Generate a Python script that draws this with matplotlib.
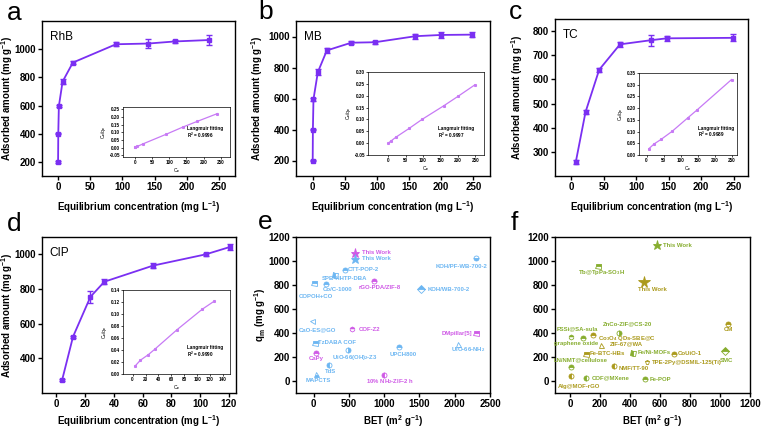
import matplotlib
matplotlib.use('Agg')
import matplotlib.pyplot as plt

plt.rcParams['font.family'] = ['Liberation Sans', 'DejaVu Sans']
plt.rcParams['font.weight'] = 'bold'
plt.rcParams['mathtext.fontset'] = 'custom'
plt.rcParams['mathtext.rm'] = 'Liberation Sans:bold'
plt.rcParams['mathtext.bf'] = 'Liberation Sans:bold'
plt.rcParams['mathtext.it'] = 'Liberation Sans:bold'
plt.rcParams['mathtext.default'] = 'rm'

W, H = 761, 428

# ---- isotherm data (Ce in mg/L, q in mg/g) ----
rhb_ce = [0, 0.3, 1.2, 7, 23, 90, 140, 182, 235]
rhb_q = [200, 400, 595, 770, 905, 1035, 1040, 1055, 1065]
rhb_err = [5, 5, 8, 20, 10, 15, 30, 12, 35]
rhb_fit_ce = [0, 1, 7, 23, 90, 140, 182, 240]
rhb_fit_r = [0.002, 0.004, 0.009, 0.025, 0.087, 0.135, 0.172, 0.222]

mb_ce = [0, 0.3, 1.2, 8, 22, 60, 97, 160, 200, 248]
mb_q = [200, 400, 595, 770, 910, 960, 963, 1002, 1010, 1012]
mb_err = [5, 5, 8, 20, 15, 10, 10, 15, 18, 18]
mb_fit_ce = [0, 8, 22, 60, 97, 160, 200, 248]
mb_fit_r = [0.0, 0.009, 0.025, 0.062, 0.100, 0.158, 0.197, 0.245]

tc_ce = [7, 22, 43, 75, 122, 147, 249]
tc_q = [258, 465, 640, 745, 762, 770, 772]
tc_err = [10, 10, 8, 10, 22, 10, 14]
tc_fit_r = [0.027, 0.047, 0.067, 0.101, 0.160, 0.191, 0.322]

cip_ce = [4, 11.6, 23.7, 33.4, 67.3, 104, 120.6]
cip_q = [275, 525, 755, 842, 935, 1000, 1042]
cip_err = [5, 5, 35, 15, 15, 10, 15]
cip_fit_ce = [3.5, 12, 24, 34, 69, 108, 126]
cip_fit_r = [0.013, 0.023, 0.032, 0.041, 0.074, 0.108, 0.121]

# ---- comparison data (BET m2/g, qm mg/g) ----
e_names = ['This Work', 'This Work', 'KOH/PF-WB-700-2', 'CTT-POP-2', 'SPB-HHTP-DBA',
           'COPOH+CO', 'Co/C-1000', 'rGO-PDA/ZIF-8', 'KOH/WB-700-2', 'CaO-ES@GO',
           'COF-Z2', 'DMpillar[5]', 'UiO-66-NH$_2$', 'TzDABA COF', 'CaPy',
           'UiO-66(OH)$_2$-Z3', 'UPCH800', 'TdS', 'MAPCTS', '10% NH$_2$-ZIF-2 h']
e_bet = [585, 585, 2300, 445, 303, 10, 175, 860, 1522, -20, 550, 2300, 2052, 20, 34,
         492, 1211, 222, 34, 1002]
e_qm = [1070, 1018, 1022, 928, 885, 814, 806, 836, 764, 502, 432, 398, 309, 317, 236,
        259, 286, 134, 58, 50]

f_names = ['This Work', 'Tb@TpPa-SO$_3$H', 'This Work', 'CM', 'ZnCo-ZIF@CS-20',
           'FSSi@SA-sula', 'graphene oxide', 'Co$_3$O$_4$ QDs-SBE@C', 'ZIF-67@WA', 'SMC',
           'Fe-BTC-HBs', 'Fe/Ni-MOFs', 'CoUiO-1', 'LN/NMT@cellulose', 'NMF/TT-90',
           'TPE-2Py@DSMIL-125(Ti)', 'Alg@MOF-rGO', 'COF@MXene', 'Fe-POP']
f_bet = [578, 185, 491, 1055, 327, 5, 89, 155, 207, 1033, 107, 422, 693, 5, 295, 515,
         5, 107, 500]
f_qm = [1133, 956, 828, 475, 403, 369, 358, 381, 300, 253, 228, 236, 228, 120, 125,
        161, 45, 28, 14]

# ---- styles ----
LINE = '#7a2ff2'
FIT = '#c77af5'
BLUE = '#6cb6f2'
MAG = '#cf5ae6'
GRN = '#86ad2e'
OLV = '#ab9a1c'
TICK = 7
LAB = 7

e_col = [MAG, BLUE, BLUE, BLUE, BLUE, BLUE, BLUE, MAG, BLUE, BLUE, MAG, MAG, BLUE,
         BLUE, MAG, BLUE, BLUE, BLUE, BLUE, MAG]
e_mk = [('*', 'full'), ('*', 'full'), ('o', 'bottom'), ('o', 'top'), ('s', 'left'),
        ('s', 'top'), ('o', 'top'), ('o', 'top'), ('D', 'top'), ('<', 'none'),
        ('h', 'top'), ('s', 'top'), ('^', 'none'), ('s', 'top'), ('o', 'top'),
        ('o', 'right'), ('o', 'top'), ('o', 'left'), ('^', 'bottom'), ('o', 'left')]
e_txt = [(680, 1070, 'left'), (680, 1018, 'left'), (2090, 958, 'center'),
         (485, 928, 'left'), (435, 850, 'center'), (25, 708, 'center'),
         (345, 764, 'center'), (934, 783, 'center'), (1617, 764, 'left'),
         (55, 430, 'center'), (634, 430, 'left'), (2245, 398, 'right'),
         (2190, 262, 'center'), (66, 317, 'left'), (30, 190, 'center'),
         (586, 195, 'center'), (1270, 225, 'center'), (246, 78, 'center'),
         (62, 8, 'center'), (1090, -2, 'center')]

f_col = [GRN, GRN, OLV, OLV, GRN, GRN, GRN, OLV, OLV, GRN, OLV, GRN, OLV, GRN, OLV,
         OLV, OLV, GRN, GRN]
f_mk = [('*', 'full'), ('s', 'top'), ('*', 'full'), ('o', 'top'), ('o', 'right'),
        ('h', 'top'), ('o', 'top'), ('o', 'top'), ('^', 'none'), ('D', 'top'),
        ('s', 'top'), ('s', 'left'), ('o', 'top'), ('o', 'top'), ('o', 'left'),
        ('p', 'top'), ('o', 'left'), ('o', 'left'), ('o', 'top')]
f_txt = [(622, 1133, 'left'), (209, 903, 'center'), (550, 764, 'center'),
         (1055, 431, 'center'), (383, 473, 'center'), (47, 431, 'center'),
         (40, 309, 'center'), (189, 358, 'left'), (373, 311, 'center'),
         (1040, 175, 'center'), (133, 228, 'left'), (449, 236, 'left'),
         (718, 228, 'left'), (73, 175, 'center'), (322, 103, 'left'),
         (545, 153, 'left'), (63, -47, 'center'), (145, 28, 'left'), (533, 14, 'left')]

fig = plt.figure(figsize=(W / 100, H / 100), dpi=100)


def px_axes(l, t, r, b):
    return fig.add_axes([l / W, 1 - b / H, (r - l) / W, (b - t) / H])


def set_ticks(ax, xticks, yticks, yfmt=None, size=TICK):
    ax.set_xticks(list(xticks), [str(v) for v in xticks], fontweight='bold', fontsize=size)
    ylabels = [yfmt % v for v in yticks] if yfmt else [str(v) for v in yticks]
    ax.set_yticks(list(yticks), ylabels, fontweight='bold', fontsize=size)


def style(ax, lw=1.0, tl=3, pad=1.5):
    for s in ax.spines.values():
        s.set_linewidth(lw)
    ax.tick_params(direction='out', length=tl, width=lw, pad=pad)


def isotherm(box, ce, q, err, name, xlim, ylim, xticks, yticks, lpad, ylx):
    ax = px_axes(*box)
    ax.errorbar(ce, q, yerr=err, color=LINE, lw=1.3, marker='s', ms=2.6,
                capsize=2, capthick=1, elinewidth=1)
    ax.set_xlim(*xlim)
    ax.set_ylim(*ylim)
    set_ticks(ax, xticks, yticks)
    style(ax)
    ax.set_xlabel('Equilibrium concentration (mg L$^{-1}$)', fontsize=LAB,
                  fontweight='bold', labelpad=lpad)
    ax.set_ylabel('Adsorbed amount (mg g$^{-1}$)', fontsize=LAB, fontweight='bold')
    ax.yaxis.set_label_coords((ylx - box[0]) / (box[2] - box[0]), 0.5)
    ax.text(0.04, 0.9, name, transform=ax.transAxes, fontsize=8.5, fontweight='normal',
            va='center')
    return ax


def inset(box, ce, r, xlim, ylim, xticks, yticks, r2, ty, gap):
    ax = px_axes(*box)
    ax.plot(ce, r, color=FIT, lw=0.9, marker='s', ms=1.2)
    ax.set_xlim(*xlim)
    ax.set_ylim(*ylim)
    set_ticks(ax, xticks, yticks, '%.2f', size=3.3)
    style(ax, lw=0.5, tl=1.2, pad=1)
    ax.set_xlabel('C$_e$', fontsize=3.5, labelpad=1)
    ax.set_ylabel('C$_e$/q$_e$', fontsize=3.5, labelpad=1)
    ax.text(0.6, ty, 'Langmuir fitting', transform=ax.transAxes, fontsize=3.3,
            fontweight='bold')
    ax.text(0.6, ty - gap, 'R$^2$ = ' + r2, transform=ax.transAxes, fontsize=3.3,
            fontweight='bold')


isotherm((42, 21, 235, 176), rhb_ce, rhb_q, rhb_err, 'RhB', (-25, 275), (100, 1200),
         range(0, 251, 50), range(200, 1001, 200), 5, 15)
inset((123, 107, 230, 157), rhb_fit_ce, rhb_fit_r, (-35, 277), (-0.06, 0.265),
      range(0, 251, 50), [-0.05, 0, 0.05, 0.1, 0.15, 0.2, 0.25], '0.9996', 0.55, 0.16)

isotherm((296, 21, 490, 176), mb_ce, mb_q, mb_err, 'MB', (-26, 276), (100, 1100),
         range(0, 251, 50), range(200, 1001, 200), 5, 265)
inset((368, 72, 484, 155), mb_fit_ce, mb_fit_r, (-58, 275), (-0.05, 0.30),
      range(0, 251, 50), [-0.05, 0, 0.05, 0.1, 0.15, 0.2, 0.25, 0.3], '0.9997', 0.3, 0.09)

isotherm((555, 19, 748, 176), tc_ce, tc_q, tc_err, 'TC', (-25, 272), (200, 850),
         range(0, 251, 50), range(300, 801, 100), 5, 525)
inset((639, 73, 737, 155), tc_ce, tc_fit_r, (-22, 265), (0, 0.35),
      range(0, 251, 50), [0, 0.05, 0.1, 0.15, 0.2, 0.25, 0.3, 0.35], '0.9989', 0.31, 0.09)

isotherm((42, 237, 236, 393), cip_ce, cip_q, cip_err, 'CIP', (-10, 125), (200, 1100),
         range(0, 121, 20), range(400, 1001, 200), 3, 15)
inset((123, 290, 230, 374), cip_fit_ce, cip_fit_r, (-15, 151), (0, 0.14),
      range(0, 141, 20), [0, 0.02, 0.04, 0.06, 0.08, 0.1, 0.12, 0.14], '0.9990', 0.3, 0.09)


def compare(box, x, y, names, cols, mks, txt, xlim, xticks, big):
    ax = px_axes(*box)
    for i in range(len(x)):
        m, fs = mks[i]
        ms = 3.6
        if m == '*':
            ms = 6.5 if i not in big else 8.5
        ax.plot([x[i]], [y[i]], linestyle='none', marker=m, fillstyle=fs, ms=ms,
                color=cols[i], markerfacecoloralt='white', mew=0.6)
        tx, ty, ha = txt[i]
        ax.text(tx, ty, names[i], color=cols[i], fontsize=4.3, ha=ha, va='center',
                fontweight='bold')
    ax.set_xlim(*xlim)
    ax.set_ylim(-100, 1200)
    set_ticks(ax, xticks, range(0, 1201, 200))
    style(ax)
    ax.set_xlabel('BET (m$^2$ g$^{-1}$)', fontsize=LAB, fontweight='bold', labelpad=3)
    return ax


ax_e = compare((296, 237, 490, 393), e_bet, e_qm, e_names, e_col, e_mk, e_txt,
               (-250, 2500), range(0, 2501, 500), [])
ax_e.set_ylabel('q$_m$ (mg g$^{-1}$)', fontsize=LAB, fontweight='bold')
ax_e.yaxis.set_label_coords((268 - 296) / 194, 0.5)
compare((555, 237, 750, 393), f_bet, f_qm, f_names, f_col, f_mk, f_txt,
        (-100, 1200), range(0, 1201, 200), [2])

for lbl, x, y in [('a', 14, 13), ('b', 266, 12), ('c', 515, 12),
                  ('d', 14, 224), ('e', 265, 222), ('f', 514, 223)]:
    fig.text(x / W, 1 - y / H, lbl, fontsize=19, fontweight='normal',
             ha='center', va='center')

fig.savefig('out.png', dpi=100)
